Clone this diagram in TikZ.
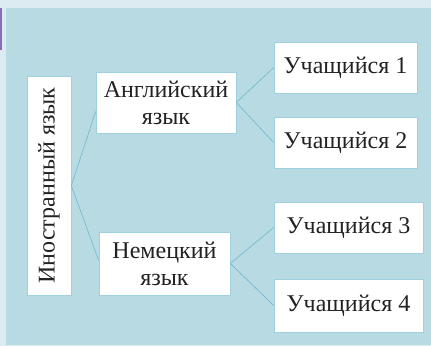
\documentclass[tikz,border=0pt]{standalone}
\usepackage{fontspec}
\setmainfont{Liberation Serif}
\definecolor{outerbg}{HTML}{DCEBF2}
\definecolor{panel}{HTML}{B8DAE3}
\definecolor{linkc}{HTML}{6FB8CB}
\definecolor{boxedge}{HTML}{9FD0DE}
\definecolor{txt}{HTML}{222222}
\definecolor{purp}{HTML}{8A6BB5}
\begin{document}
\begin{tikzpicture}[x=1pt,y=-1pt,
  box/.style={draw=boxedge, line width=0.6pt, fill=white, inner sep=0pt,
    text=txt, font=\fontsize{24}{27}\selectfont, align=center},
  link/.style={draw=linkc, line width=0.6pt}]
\useasboundingbox (0,0) rectangle (431,346);
\fill[outerbg] (0,0) rectangle (431,346);
\fill[panel] (6,8) rectangle (431,345);
\fill[purp] (0,8) rectangle (1.5,50);
\node[box, minimum width=219pt, minimum height=44pt, rotate=90] (root) at (49,185.5) {Иностранный язык};
\node[box, minimum width=140pt, minimum height=61pt] (eng) at (166,102.5) {Английский\\язык};
\node[box, minimum width=131pt, minimum height=63pt] (ger) at (164.5,263.5) {Немецкий\\язык};
\node[box, minimum width=143pt, minimum height=51pt] (u1) at (345.5,67.5) {Учащийся 1};
\node[box, minimum width=143pt, minimum height=51pt] (u2) at (345.5,142.5) {Учащийся 2};
\node[box, minimum width=149pt, minimum height=51pt] (u3) at (348.5,227.5) {Учащийся 3};
\node[box, minimum width=149pt, minimum height=53pt] (u4) at (348.5,305.5) {Учащийся 4};
\draw[link] (root.south) -- ([yshift=-9pt]eng.west);
\draw[link] (root.south) -- ([yshift=3pt]ger.west);
\draw[link] (eng.east) -- (u1.west);
\draw[link] (eng.east) -- (u2.west);
\draw[link] (ger.east) -- (u3.west);
\draw[link] (ger.east) -- (u4.west);
\end{tikzpicture}
\end{document}
